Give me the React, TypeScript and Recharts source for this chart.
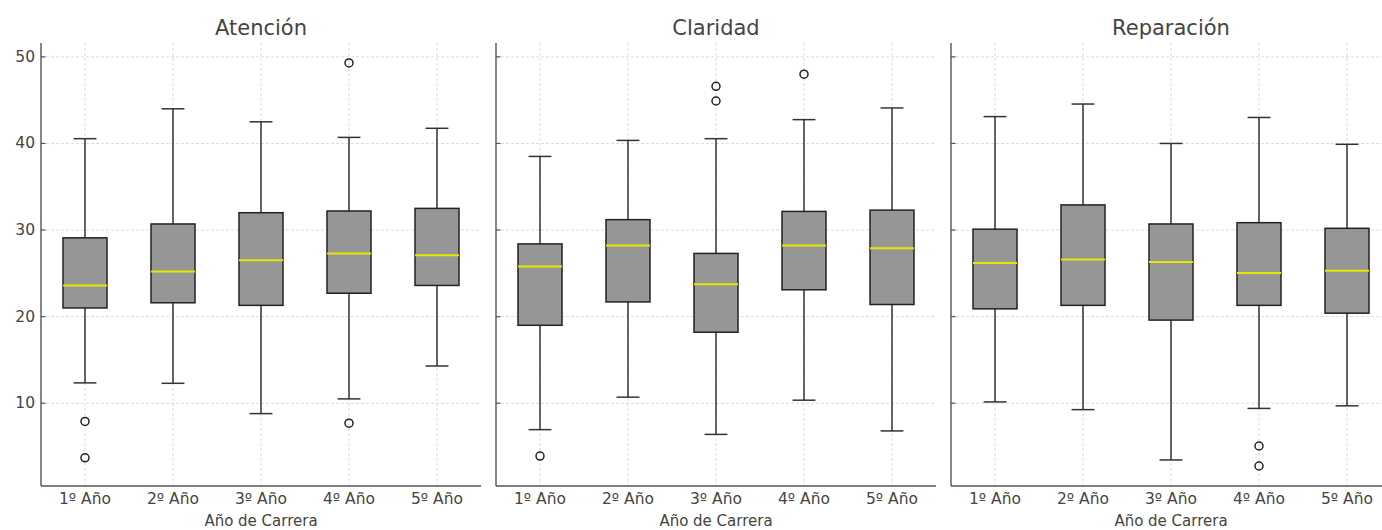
import React from 'react'
import { ComposedChart, Bar, Line, XAxis, YAxis, CartesianGrid } from 'recharts'

// categorías
const YEARS = ['1º Año', '2º Año', '3º Año', '4º Año', '5º Año']
const Y_TICKS = [10, 20, 30, 40, 50]

// Atención
const atencionLow = [12.35, 12.3, 8.8, 10.5, 14.3]
const atencionQ1 = [21.0, 21.6, 21.3, 22.7, 23.6]
const atencionMed = [23.6, 25.2, 26.5, 27.3, 27.1]
const atencionQ3 = [29.1, 30.7, 32.0, 32.2, 32.5]
const atencionHigh = [40.55, 44.0, 42.5, 40.7, 41.75]
const atencionOut = [[7.9, 3.7], [], [], [49.3, 7.7], []]

// Claridad
const claridadLow = [6.95, 10.7, 6.4, 10.35, 6.8]
const claridadQ1 = [19.0, 21.7, 18.2, 23.1, 21.4]
const claridadMed = [25.8, 28.2, 23.75, 28.2, 27.9]
const claridadQ3 = [28.4, 31.2, 27.3, 32.15, 32.3]
const claridadHigh = [38.5, 40.35, 40.55, 42.75, 44.1]
const claridadOut = [[3.9], [], [46.6, 44.9], [48.0], []]

// Reparación
const reparacionLow = [10.15, 9.26, 3.45, 9.4, 9.7]
const reparacionQ1 = [20.9, 21.3, 19.6, 21.3, 20.4]
const reparacionMed = [26.2, 26.6, 26.3, 25.05, 25.3]
const reparacionQ3 = [30.1, 32.9, 30.7, 30.85, 30.2]
const reparacionHigh = [43.1, 44.55, 40.0, 43.0, 39.9]
const reparacionOut = [[], [], [], [5.06, 2.75], []]

type Row = {
  year: string
  low: number
  q1: number
  med: number
  q3: number
  high: number
  o1: number | null
  o2: number | null
}

const buildRows = (
  low: number[], q1: number[], med: number[], q3: number[], high: number[], out: number[][]
): Row[] =>
  YEARS.map((year, i) => ({
    year,
    low: low[i],
    q1: q1[i],
    med: med[i],
    q3: q3[i],
    high: high[i],
    o1: out[i][0] ?? null,
    o2: out[i][1] ?? null,
  }))

const TEXT = '#444'
const AXIS = '#555'
const GRID = '#d2d2d2'
const FONT = '"DejaVu Sans", sans-serif'
const PLOT_W = 440
const Y_AXIS_W = 41

// caja completa: el rango [low, high] lo escala Recharts, el resto se deriva
const BoxShape = (props: any) => {
  const { x, y, width, height, payload } = props
  if (height == null || !payload) return <g />
  const k = height / (payload.high - payload.low)
  const yOf = (v: number) => y + (payload.high - v) * k
  const cx = x + width / 2
  const cap = width * 0.26
  const yQ3 = yOf(payload.q3)
  const yQ1 = yOf(payload.q1)
  const yMed = yOf(payload.med)
  const yLow = y + height
  return (
    <g>
      <line x1={cx} x2={cx} y1={y} y2={yQ3} stroke="#333" strokeWidth={1.5} />
      <line x1={cx} x2={cx} y1={yQ1} y2={yLow} stroke="#333" strokeWidth={1.5} />
      <line x1={cx - cap} x2={cx + cap} y1={y} y2={y} stroke="#333" strokeWidth={1.5} />
      <line x1={cx - cap} x2={cx + cap} y1={yLow} y2={yLow} stroke="#333" strokeWidth={1.5} />
      <rect x={x} y={yQ3} width={width} height={yQ1 - yQ3} fill="#969696" stroke="#222" strokeWidth={1.5} />
      <line x1={x} x2={x + width} y1={yMed} y2={yMed} stroke="#e6e600" strokeWidth={2} />
    </g>
  )
}

const OutlierDot = (props: any) => {
  const { cx, cy, value, index } = props
  if (value == null || cy == null || Number.isNaN(cy)) return <g key={index} />
  return <circle key={index} cx={cx} cy={cy} r={4} fill="none" stroke="#222" strokeWidth={1.5} />
}

const XTick = (props: any) => {
  const { x, y, payload } = props
  return (
    <text x={x} y={y + 13} textAnchor="middle" dominantBaseline="central" fontSize={15.5} fill={TEXT}>
      {payload.value}
    </text>
  )
}

const makeYTick = (showLabels: boolean) => (props: any) => {
  const { x, y, payload } = props
  return (
    <g>
      <line x1={x} x2={x + 4.5} y1={y} y2={y} stroke={AXIS} strokeWidth={1.2} />
      {showLabels && (
        <text x={x - 6} y={y} textAnchor="end" dominantBaseline="central" fontSize={15.5} fill={TEXT}>
          {payload.value}
        </text>
      )}
    </g>
  )
}

type PanelProps = { title: string; rows: Row[]; axisX: number; showYLabels: boolean }

function Panel({ title, rows, axisX, showYLabels }: PanelProps) {
  return (
    <>
      <div
        style={{
          position: 'absolute', left: axisX, top: 15, width: PLOT_W, textAlign: 'center',
          fontSize: 21, lineHeight: '26px', color: TEXT,
        }}
      >
        {title}
      </div>
      <div style={{ position: 'absolute', left: axisX - Y_AXIS_W, top: 0 }}>
        <ComposedChart
          width={Y_AXIS_W + PLOT_W}
          height={530}
          data={rows}
          margin={{ top: 43, right: 0, bottom: 0, left: 0 }}
        >
          <CartesianGrid syncWithTicks stroke={GRID} strokeDasharray="3 2" strokeWidth={0.8} />
          <XAxis
            dataKey="year"
            type="category"
            height={44}
            tickSize={0}
            tickMargin={0}
            tickLine={false}
            tick={<XTick />}
            interval={0}
            axisLine={{ stroke: AXIS, strokeWidth: 1.4 }}
            label={{ value: 'Año de Carrera', position: 'insideBottom', offset: 4, fill: TEXT, fontSize: 15 }}
          />
          <YAxis
            type="number"
            width={Y_AXIS_W}
            domain={[0.44, 51.6]}
            ticks={Y_TICKS}
            allowDataOverflow
            tickSize={0}
            tickMargin={0}
            tickLine={false}
            tick={makeYTick(showYLabels)}
            axisLine={{ stroke: AXIS, strokeWidth: 1.4 }}
          />
          <Bar
            dataKey={(d: Row) => [d.low, d.high]}
            barSize={44}
            shape={<BoxShape />}
            isAnimationActive={false}
          />
          <Line dataKey="o1" stroke="none" dot={OutlierDot} activeDot={false} isAnimationActive={false} />
          <Line dataKey="o2" stroke="none" dot={OutlierDot} activeDot={false} isAnimationActive={false} />
        </ComposedChart>
      </div>
    </>
  )
}

export default function App() {
  const atencion = buildRows(atencionLow, atencionQ1, atencionMed, atencionQ3, atencionHigh, atencionOut)
  const claridad = buildRows(claridadLow, claridadQ1, claridadMed, claridadQ3, claridadHigh, claridadOut)
  const reparacion = buildRows(reparacionLow, reparacionQ1, reparacionMed, reparacionQ3, reparacionHigh, reparacionOut)

  return (
    <div
      style={{
        position: 'fixed', left: 0, top: 0, width: 1382, height: 530, overflow: 'hidden',
        background: '#fff', fontFamily: FONT,
      }}
    >
      <Panel title="Atención" rows={atencion} axisX={41} showYLabels />
      <Panel title="Claridad" rows={claridad} axisX={496} showYLabels={false} />
      <Panel title="Reparación" rows={reparacion} axisX={951} showYLabels={false} />
    </div>
  )
}
